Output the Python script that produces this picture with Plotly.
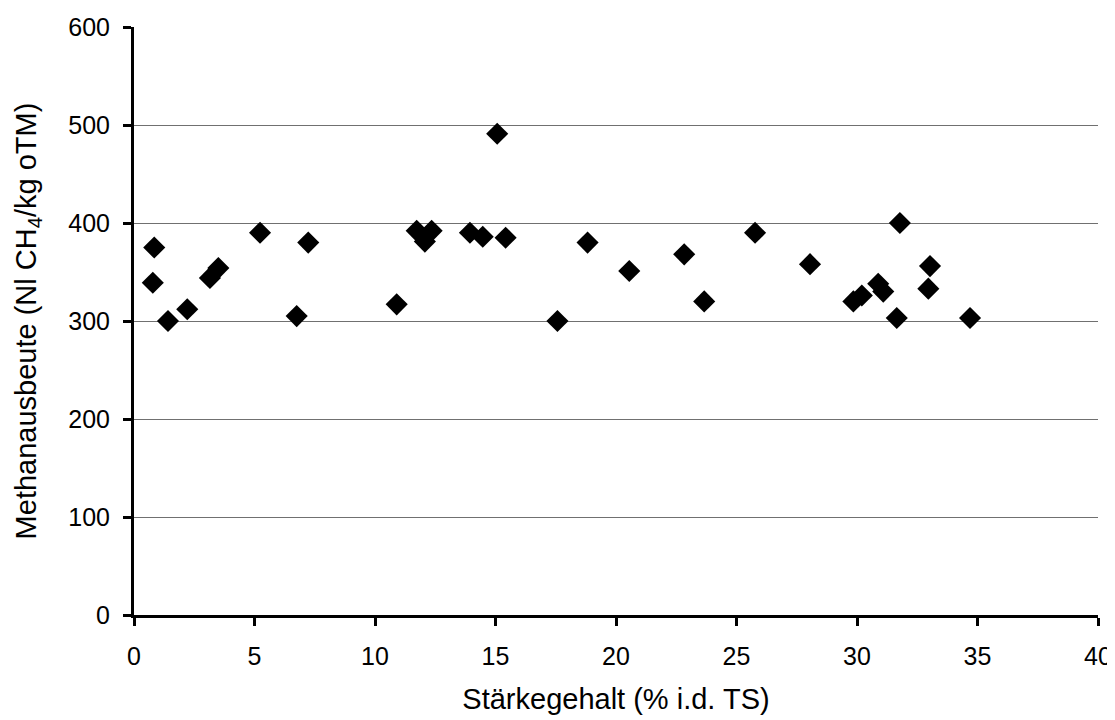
import plotly.graph_objects as go

staerke = [0.84, 0.78, 1.41, 2.21, 3.15, 3.5, 5.23, 6.75, 7.23, 10.9, 11.73, 12.07, 12.35,
           13.94, 14.47, 15.07, 15.42, 17.57, 18.82, 20.55, 22.83, 23.66, 25.77, 28.05,
           29.85, 30.2, 30.88, 31.09, 31.65, 31.78, 32.96, 33.03, 34.69]
methan = [375, 339, 300, 312, 344, 354, 390, 305, 380, 317, 392, 381, 392,
          390, 386, 491, 385, 300, 380, 351, 368, 320, 390, 358,
          320, 326, 338, 330, 303, 400, 333, 356, 303]

x_ticks = [0, 5, 10, 15, 20, 25, 30, 35, 40]
y_ticks = [0, 100, 200, 300, 400, 500, 600]

font_family = "Liberation Sans, Arial, sans-serif"

fig = go.Figure()
fig.add_trace(go.Scatter(
    x=staerke, y=methan, mode="markers",
    marker=dict(symbol="diamond", size=17, color="black", line=dict(width=0)),
    showlegend=False, cliponaxis=False,
))

# page body has an 8px margin, so the figure is sized/placed to compensate
fig.update_layout(
    width=1107, height=712,
    paper_bgcolor="white", plot_bgcolor="white",
    margin=dict(l=126, r=17, t=19, b=105),
    font=dict(family=font_family, size=25, color="black"),
    xaxis=dict(
        range=[0, 40], tickvals=x_ticks, ticktext=[str(v) for v in x_ticks],
        showline=True, linecolor="black", linewidth=3,
        ticks="outside", ticklen=8, tickwidth=3, tickcolor="black",
        showgrid=False, zeroline=False, automargin=False,
        ticklabelstandoff=9,
        title=dict(text="Stärkegehalt (% i.d. TS)", font=dict(size=29, family=font_family), standoff=20),
        tickfont=dict(size=25, family=font_family),
    ),
    yaxis=dict(
        range=[0, 600], tickvals=y_ticks, ticktext=[str(v) for v in y_ticks],
        showline=True, linecolor="black", linewidth=3,
        ticks="outside", ticklen=8, tickwidth=3, tickcolor="black",
        showgrid=True, gridcolor="#707070", gridwidth=1, zeroline=False, automargin=False,
        ticklabelstandoff=8,
        title=dict(text="Methanausbeute (Nl CH<sub>4</sub>/kg oTM)", font=dict(size=29, family=font_family), standoff=24),
        tickfont=dict(size=25, family=font_family),
    ),
)

fig.write_html("out.html")
